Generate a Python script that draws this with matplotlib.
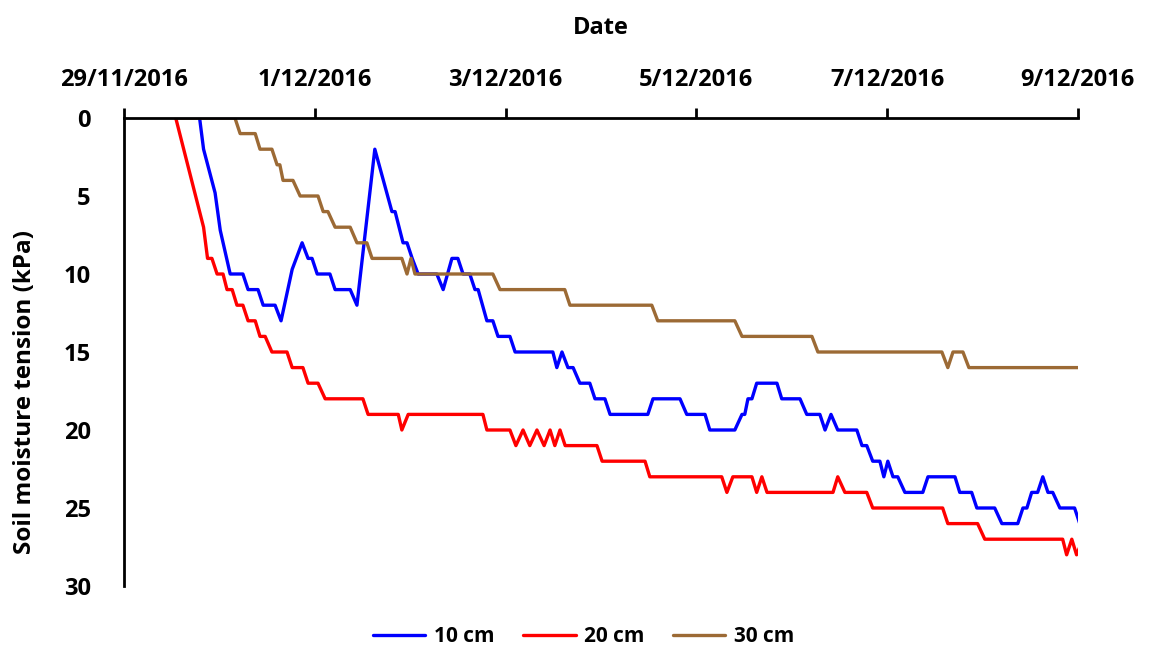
import pandas as pd
import matplotlib.pyplot as plt

plt.rcParams['font.family'] = ['Open Sans', 'DejaVu Sans']
plt.rcParams['font.weight'] = 'bold'

start = pd.Timestamp('2016-11-29')

# hours since 29/11/2016 00:00, soil moisture tension (kPa)
hours_10cm = [19, 20, 22.9, 24.2, 26.7, 29.9, 31.2, 33.7, 35, 38, 39.5, 42.3, 44.8, 46.3, 47.3,
              48.6, 51.8, 53.1, 56.9, 58.6, 63.1, 67.4, 68.2, 70.2, 71.2, 72.5, 74, 78.7, 80.3,
              82.5, 84, 85.3, 87, 88.3, 89.1, 91.3, 92.8, 94.1, 97.1, 98.4, 107.9, 108.9, 110.2,
              111.7, 113, 114.7, 117.2, 118.5, 121, 122.3, 131.8, 133.1, 139.9, 141.6, 146.2,
              147.4, 153.7, 155.5, 156.2, 157, 158, 159.2, 164.3, 165.5, 170.1, 171.8, 175.1,
              176.4, 177.9, 179.6, 184.4, 185.7, 186.9, 188.4, 190.2, 191.2, 192.2, 193.5, 194.7,
              196.5, 201, 202.3, 209.1, 210.3, 213.3, 214.6, 219.1, 220.9, 224.9, 226.2, 227.2,
              228.4, 229.9, 231.2, 232.5, 233.7, 235.5, 239.2, 240.5]
kpa_10cm = [0, 2, 4.8, 7.2, 10, 10, 11, 11, 12, 12, 13, 9.7, 8, 9, 9,
            10, 10, 11, 11, 12, 2, 6, 6, 8, 8, 9, 10, 10, 11,
            9, 9, 10, 10, 11, 11, 13, 13, 14, 14, 15, 15, 16, 15,
            16, 16, 17, 17, 18, 18, 19, 19, 18, 18, 19, 19,
            20, 20, 19, 19, 18, 18, 17, 17, 18, 18, 19, 19,
            20, 19, 20, 20, 21, 21, 22, 22, 23, 22, 23, 23,
            24, 24, 23, 23, 24, 24, 25, 25, 26, 26, 25, 25,
            24, 24, 23, 24, 24, 25, 25, 26]

hours_20cm = [13, 20, 21, 22.1, 23.4, 24.9, 25.9, 27.2, 28.4, 29.9, 31.2, 33, 34.2, 35.5, 37.2, 41,
              42.3, 45, 46.3, 48.8, 50.6, 60.1, 61.4, 69, 69.9, 71.5, 90.3, 91.3, 97.1, 98.6,
              100.4, 102.1, 103.9, 105.7, 107.2, 108.4, 109.7, 111, 119, 120.3, 131.1, 132.3,
              150.4, 151.7, 153.2, 158, 159.2, 160.5, 161.8, 178.4, 179.6, 181.4, 186.9, 188.4,
              206, 207.3, 214.8, 216.6, 236.2, 237.2, 238.5, 239.7, 240.5]
kpa_20cm = [0, 7, 9, 9, 10, 10, 11, 11, 12, 12, 13, 13, 14, 14, 15, 15,
            16, 16, 17, 17, 18, 18, 19, 19, 20, 19, 19, 20, 20, 21,
            20, 21, 20, 21, 20, 21, 20, 21, 21, 22, 22, 23,
            23, 24, 23, 23, 24, 23, 24, 24, 23, 24, 24, 25,
            25, 26, 26, 27, 27, 28, 27, 28, 27.5]

hours_30cm = [13, 27.9, 29.2, 33, 34.2, 37.2, 38.5, 39.2, 40, 42.5, 44.3, 48.8, 50.1, 51.3, 53.1,
              56.9, 58.6, 61.1, 62.4, 69.9, 71.2, 72.2, 73.2, 92.8, 94.6, 110.9, 112.2, 132.8,
              134.3, 153.7, 155.5, 173.1, 174.6, 205.8, 207.3, 208.6, 211.1, 212.6, 240.5]
kpa_30cm = [0, 0, 1, 1, 2, 2, 3, 3, 4, 4, 5, 5, 6, 6, 7,
            7, 8, 8, 9, 9, 10, 9, 10, 10, 11, 11, 12, 12,
            13, 13, 14, 14, 15, 15, 16, 15, 15, 16, 16]

series = [('10 cm', hours_10cm, kpa_10cm, '#0000FF'),
          ('20 cm', hours_20cm, kpa_20cm, '#FF0000'),
          ('30 cm', hours_30cm, kpa_30cm, '#9C6A35')]

fig = plt.figure(figsize=(11.49, 6.53), dpi=100)
ax = fig.add_axes([0.108, 0.1026, 0.830, 0.7167])

for label, hrs, vals, col in series:
    t = start + pd.to_timedelta(hrs, unit='h')
    ax.plot(t, vals, color=col, lw=2.4, label=label,
            solid_joinstyle='round', solid_capstyle='round')

ax.set_ylim(30, 0)
ax.set_xlim(start, start + pd.Timedelta(days=10))
ax.set_yticks(range(0, 31, 5))

ticks = [start + pd.Timedelta(days=d) for d in range(0, 11, 2)]
ax.set_xticks(ticks)
ax.set_xticklabels([f'{d.day}/{d.month}/{d.year}' for d in ticks])

ax.xaxis.tick_top()
ax.xaxis.set_label_position('top')
ax.set_xlabel('Date', fontsize=17, fontweight='bold', labelpad=24)

ax.spines['bottom'].set_visible(False)
ax.spines['right'].set_visible(False)
ax.spines['top'].set_linewidth(2)
ax.spines['left'].set_linewidth(2)

ax.tick_params(axis='x', direction='out', length=7, width=2, pad=12, labelsize=17)
ax.tick_params(axis='y', length=0, pad=24, labelsize=17)

fig.text(0.022, 0.40, 'Soil moisture tension (kPa)', rotation=90, fontsize=17.5,
         fontweight='bold', ha='center', va='center')

fig.legend(loc='lower center', bbox_to_anchor=(0.508, -0.02), ncol=3,
           frameon=False, fontsize=15, handlelength=2.5, handletextpad=0.4,
           columnspacing=1.4)

fig.savefig('out.png', dpi=100)
